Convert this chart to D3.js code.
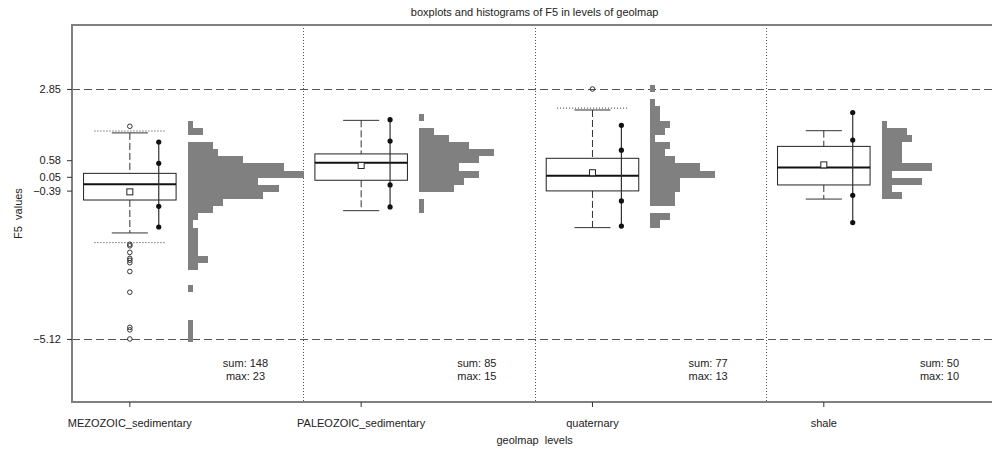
<!DOCTYPE html>
<html lang="en">
<head>
<meta charset="utf-8">
<title>boxplots and histograms of F5</title>
<script src="https://d3js.org/d3.v7.min.js"></script>
<style>
body { margin: 0; background: #fff; }
svg text { font-family: "Liberation Sans", Arial, sans-serif; fill: #222; }
</style>
</head>
<body>
<div id="chart"></div>
<script>
// levels of geolmap
var levels = ["MEZOZOIC_sedimentary", "PALEOZOIC_sedimentary", "quaternary", "shale"];

// box statistics per level
var q1      = [-0.69, -0.06, -0.40, -0.21];
var medians = [-0.19,  0.50,  0.08,  0.35];
var q3      = [ 0.16,  0.78,  0.64,  1.02];
var means   = [-0.43,  0.41,  0.18,  0.43];
var whiskLo = [-1.74, -1.03, -1.57, -0.66];
var whiskHi = [ 1.45,  1.85,  2.18,  1.52];
var fenceLo = [-2.05, null, null, null];
var fenceHi = [ 1.51, null, 2.24, null];
var outliers = [
    [1.66, -2.10, -2.15, -2.36, -2.55, -2.61, -2.69, -2.97, -3.63, -4.75, -4.83, -5.12],
    [],
    [2.85],
    []
];
// points on the thin line beside each box
var sdPoints = [
    [1.16, 0.48, -0.89, -1.55],
    [1.87, 1.19, -0.21, -0.91],
    [1.69, 0.90, -0.72, -1.52],
    [2.10, 1.22, -0.54, -1.41]
];

// histogram counts, 36 bins from the top (binTop) downwards
var binTop = 2.977;
var binStep = 0.2273;
var histCounts = [
    [0,0,0,0,0,1,3,0,5,6,11,19,23,14,18,15,7,5,2,1,2,2,2,2,4,2,0,0,1,0,0,0,0,1,1,1],
    [0,0,0,0,1,0,3,6,10,15,12,8,12,9,7,0,1,1,0,0,0,0,0,0,0,0,0,0,0,0,0,0,0,0,0,0],
    [1,0,1,2,2,4,3,1,4,3,5,10,13,6,6,5,5,0,4,2,0,0,0,0,0,0,0,0,0,0,0,0,0,0,0,0],
    [0,0,0,0,0,1,5,6,4,4,4,10,2,8,2,4,0,0,0,0,0,0,0,0,0,0,0,0,0,0,0,0,0,0,0,0]
];

var yTicks = [2.85, 0.58, 0.05, -0.39, -5.12];
var yMin = -5.12, yMax = 2.85;

// sizes
var width = 992, height = 451;
var plotL = 72, plotT = 25, plotR = 997.3, plotB = 402;

var svg = d3.select('#chart')
    .append('svg')
    .attr('width', width)
    .attr('height', height);

var x = d3.scaleBand()
    .domain(levels)
    .range([plotL, plotR]);
var bw = x.bandwidth();

var y = d3.scaleLinear()
    .domain([-7.13, 4.89])
    .range([plotB, plotT]);

var maxCount = d3.max(histCounts, function(c) { return d3.max(c); });
var hx = d3.scaleLinear()
    .domain([0, maxCount])
    .range([0, bw * 0.5]);

// dotted separators between levels
svg.append('g').selectAll('line')
    .data(levels.slice(1))
    .enter()
    .append('line')
    .attr('x1', function(d) { return Math.round(x(d)) + 0.5; })
    .attr('x2', function(d) { return Math.round(x(d)) + 0.5; })
    .attr('y1', plotT)
    .attr('y2', plotB)
    .attr('stroke', '#555')
    .attr('stroke-dasharray', '1,2');

// dashed lines at min and max
svg.append('g').selectAll('line')
    .data([yMax, yMin])
    .enter()
    .append('line')
    .attr('x1', plotL)
    .attr('x2', plotR)
    .attr('y1', function(d) { return Math.round(y(d)) + 0.5; })
    .attr('y2', function(d) { return Math.round(y(d)) + 0.5; })
    .attr('stroke', '#555')
    .attr('stroke-dasharray', '8,4');

// histograms
levels.forEach(function(lev, i) {
    var x0 = Math.round(x(lev) + bw * 0.5);
    var bins = histCounts[i].map(function(c, k) {
        return { count: c, hi: binTop - k * binStep, lo: binTop - (k + 1) * binStep };
    }).filter(function(b) { return b.count > 0; });

    svg.append('g').selectAll('rect')
        .data(bins)
        .enter()
        .append('rect')
        .attr('x', x0)
        .attr('y', function(b) { return Math.round(y(b.hi)); })
        .attr('width', function(b) { return Math.round(hx(b.count)); })
        .attr('height', function(b) { return Math.round(y(b.lo)) - Math.round(y(b.hi)); })
        .attr('shape-rendering', 'crispEdges')
        .attr('fill', '#808080');

    // sum / max labels
    var tx = x(lev) + bw * 0.75;
    svg.append('text')
        .attr('x', tx).attr('y', 367)
        .attr('text-anchor', 'middle')
        .style('font-size', '11px')
        .text('sum: ' + d3.sum(histCounts[i]));
    svg.append('text')
        .attr('x', tx).attr('y', 380)
        .attr('text-anchor', 'middle')
        .style('font-size', '11px')
        .text('max: ' + d3.max(histCounts[i]));
});

// boxplots
levels.forEach(function(lev, i) {
    var cx = x(lev) + bw * 0.25;
    var g = svg.append('g');

    // fences (dotted)
    [fenceLo[i], fenceHi[i]].forEach(function(f) {
        if (f === null) return;
        g.append('line')
            .attr('x1', cx - bw * 0.153).attr('x2', cx + bw * 0.153)
            .attr('y1', y(f)).attr('y2', y(f))
            .attr('stroke', '#333')
            .attr('stroke-dasharray', '1,2');
    });

    // whiskers
    g.append('line')
        .attr('x1', cx).attr('x2', cx)
        .attr('y1', y(whiskHi[i])).attr('y2', y(q3[i]))
        .attr('stroke', '#333').attr('stroke-dasharray', '7,3');
    g.append('line')
        .attr('x1', cx).attr('x2', cx)
        .attr('y1', y(q1[i])).attr('y2', y(whiskLo[i]))
        .attr('stroke', '#333').attr('stroke-dasharray', '7,3');
    [whiskLo[i], whiskHi[i]].forEach(function(w) {
        g.append('line')
            .attr('x1', cx - bw * 0.078).attr('x2', cx + bw * 0.078)
            .attr('y1', y(w)).attr('y2', y(w))
            .attr('stroke', '#333');
    });

    // box
    g.append('rect')
        .attr('x', cx - bw * 0.2)
        .attr('y', y(q3[i]))
        .attr('width', bw * 0.4)
        .attr('height', y(q1[i]) - y(q3[i]))
        .attr('fill', 'none')
        .attr('stroke', '#222');
    g.append('line')
        .attr('x1', cx - bw * 0.2).attr('x2', cx + bw * 0.2)
        .attr('y1', y(medians[i])).attr('y2', y(medians[i]))
        .attr('stroke', '#111').attr('stroke-width', 2);

    // mean
    g.append('rect')
        .attr('x', cx - 3).attr('y', y(means[i]) - 3)
        .attr('width', 6).attr('height', 6)
        .attr('fill', '#fff').attr('stroke', '#222');

    // outliers
    g.selectAll('circle.out')
        .data(outliers[i])
        .enter()
        .append('circle')
        .attr('class', 'out')
        .attr('cx', cx)
        .attr('cy', function(d) { return y(d); })
        .attr('r', 2.3)
        .attr('fill', 'none')
        .attr('stroke', '#333');

    // thin line with points
    var px = cx + bw * 0.125;
    g.append('line')
        .attr('x1', px).attr('x2', px)
        .attr('y1', y(d3.max(sdPoints[i]))).attr('y2', y(d3.min(sdPoints[i])))
        .attr('stroke', '#333').attr('stroke-width', 1.2);
    g.selectAll('circle.pt')
        .data(sdPoints[i])
        .enter()
        .append('circle')
        .attr('class', 'pt')
        .attr('cx', px)
        .attr('cy', function(d) { return y(d); })
        .attr('r', 2.6)
        .attr('fill', '#111');
});

// frame
svg.append('rect')
    .attr('x', plotL)
    .attr('y', plotT)
    .attr('width', plotR - plotL)
    .attr('height', plotB - plotT)
    .attr('fill', 'none')
    .attr('stroke', '#808080')
    .attr('stroke-width', 2);

// y axis
var yAxis = svg.append('g')
    .attr('transform', 'translate(' + plotL + ',0)')
    .call(d3.axisLeft(y).tickValues(yTicks).tickSize(5).tickPadding(6).tickFormat(d3.format('.2f')));
yAxis.select('.domain').remove();
yAxis.selectAll('.tick line').attr('stroke', '#333');
yAxis.selectAll('.tick text')
    .style('font-size', '11px')
    .style('font-family', '"Liberation Sans", Arial, sans-serif')
    .attr('fill', '#222');

// x axis, ticks at a quarter of each band
var xAxis = svg.append('g')
    .attr('transform', 'translate(0,' + plotB + ')')
    .call(d3.axisBottom(x).tickSize(5).tickPadding(12));
xAxis.select('.domain').remove();
xAxis.selectAll('.tick')
    .attr('transform', function(d) { return 'translate(' + (x(d) + bw * 0.25) + ',0)'; });
xAxis.selectAll('.tick line').attr('stroke', '#333');
xAxis.selectAll('.tick text')
    .style('font-size', '11px')
    .style('font-family', '"Liberation Sans", Arial, sans-serif')
    .attr('fill', '#222');

// titles
svg.append('text')
    .attr('x', (plotL + plotR) / 2).attr('y', 16)
    .attr('text-anchor', 'middle')
    .style('font-size', '11px')
    .text('boxplots and histograms of F5 in levels of geolmap');

svg.append('text')
    .attr('x', (plotL + plotR) / 2).attr('y', 444)
    .attr('text-anchor', 'middle')
    .style('font-size', '11px')
    .style('white-space', 'pre')
    .text('geolmap  levels');

svg.append('text')
    .attr('transform', 'translate(22,' + (plotT + plotB) / 2 + ') rotate(-90)')
    .attr('text-anchor', 'middle')
    .style('font-size', '11px')
    .style('white-space', 'pre')
    .text('F5  values');
</script>
</body>
</html>
